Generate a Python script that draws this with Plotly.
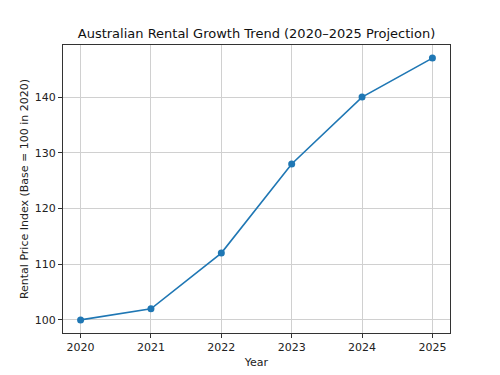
import plotly.graph_objects as go

years = [2020, 2021, 2022, 2023, 2024, 2025]
index_values = [100, 102, 112, 128, 140, 147]
x_ticks = [2020, 2021, 2022, 2023, 2024, 2025]
y_ticks = [100, 110, 120, 130, 140]

fig = go.Figure()
fig.add_trace(go.Scatter(
    x=years, y=index_values, mode="lines+markers",
    line=dict(color="#1f77b4", width=1.6),
    marker=dict(color="#1f77b4", size=7),
))

font = "DejaVu Sans"
axis_common = dict(
    showgrid=True, gridcolor="#d0d0d0", gridwidth=1,
    showline=True, linecolor="#333333", linewidth=1, mirror=True,
    ticks="outside", ticklen=4, tickcolor="#333333",
    tickfont=dict(family=font, size=11, color="#222222"),
    zeroline=False, automargin=False,
)
fig.update_layout(
    width=500, height=375,
    margin=dict(l=63, r=50, t=45, b=42),
    paper_bgcolor="white", plot_bgcolor="white",
    showlegend=False,
    title=dict(text="Australian Rental Growth Trend (2020–2025 Projection)",
               x=0.5, xanchor="center", y=1 - 33/375, yanchor="middle",
               xref="paper", font=dict(family=font, size=13, color="#111111"),
               automargin=False),
    xaxis=dict(axis_common, range=[2019.75, 2025.25], tickvals=x_ticks,
               title=dict(text="Year", font=dict(family=font, size=11, color="#222222"), standoff=5)),
    yaxis=dict(axis_common, range=[97.65, 149.35], tickvals=y_ticks,
               title=dict(text="Rental Price Index (Base = 100 in 2020)",
                          font=dict(family=font, size=11, color="#222222"), standoff=3)),
)
fig.write_html("out.html", config={"displayModeBar": False},
               post_script="document.body.style.margin='0';document.body.style.padding='0';")
